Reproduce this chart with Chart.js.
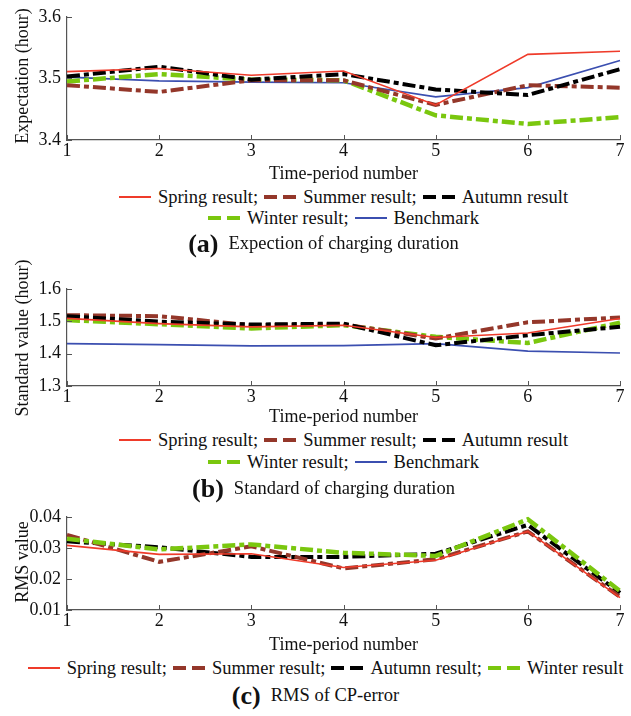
<!DOCTYPE html>
<html>
<head>
<meta charset="utf-8">
<script src="https://cdn.jsdelivr.net/npm/chart.js@4.4.1/dist/chart.umd.min.js"></script>
<style>
  html, body { margin: 0; padding: 0; background: #fff; }
  body { width: 631px; height: 716px; position: relative; overflow: hidden; font-family: "Liberation Serif", "Times New Roman", serif; color: #111; }
  .box { position: absolute; left: 0; width: 631px; }
  .legend { position: absolute; left: 67px; width: 553px; display: flex; justify-content: center; align-items: center; font-size: 18.5px; line-height: 20px; white-space: nowrap; }
  .item { display: inline-flex; align-items: center; margin: 0 3px; }
  .sample { display: inline-block; width: 32px; margin-right: 7px; position: relative; }
  .sample.solid { height: 0; border-top: 2px solid; }
  .sample.dash { height: 4px; }
  .sample.dash i { position: absolute; top: 0; height: 4px; width: 13px; }
  .sample.dash i:first-child { left: 0; }
  .sample.dash i:last-child { right: 0; }
  .caption { position: absolute; left: 0; width: 631px; text-align: center; white-space: nowrap; }
  .caption b { font-size: 26px; margin-right: 10px; vertical-align: -3px; }
  .caption span { font-size: 18.5px; }
  .ytitle { position: absolute; left: 22px; font-size: 18px; line-height: 20px; white-space: nowrap; transform: translate(-50%, -50%) rotate(-90deg); }
</style>
</head>
<body>
<div class="box" style="top:0;height:185px"><canvas id="cA" width="631" height="185"></canvas></div>
<div class="box" style="top:270px;height:158px"><canvas id="cB" width="631" height="158"></canvas></div>
<div class="box" style="top:500px;height:156px"><canvas id="cC" width="631" height="156"></canvas></div>

<div class="ytitle" id="ytA" style="top:76px"></div>
<div class="ytitle" id="ytB" style="top:338px"></div>
<div class="ytitle" id="ytC" style="top:562px"></div>

<div class="legend" id="legA1" style="top:187px"></div>
<div class="legend" id="legA2" style="top:208px"></div>
<div class="caption" style="top:229px;padding-left:16px;width:615px"><b>(a)</b><span>Expection of charging duration</span></div>

<div class="legend" id="legB1" style="top:430px"></div>
<div class="legend" id="legB2" style="top:452px"></div>
<div class="caption" style="top:474px;padding-left:16px;width:615px"><b>(b)</b><span>Standard of charging duration</span></div>

<div class="legend" id="legC1" style="top:658px;left:20px;width:611px"></div>
<div class="caption" style="top:681px"><b>(c)</b><span>RMS of CP-error</span></div>

<script>
// ---------- data ----------
const categories = ['1', '2', '3', '4', '5', '6', '7'];

// (a) Expectation of charging duration (hour)
const expSpring    = [3.511, 3.516, 3.505, 3.512, 3.457, 3.539, 3.544];
const expSummer    = [3.489, 3.478, 3.497, 3.497, 3.457, 3.489, 3.485];
const expAutumn    = [3.503, 3.519, 3.498, 3.507, 3.482, 3.473, 3.515];
const expWinter    = [3.495, 3.507, 3.498, 3.497, 3.440, 3.426, 3.437];
const expBenchmark = [3.502, 3.496, 3.494, 3.493, 3.470, 3.485, 3.529];

// (b) Standard value of charging duration (hour)
const stdSpring    = [1.509, 1.493, 1.483, 1.488, 1.450, 1.464, 1.509];
const stdSummer    = [1.519, 1.516, 1.488, 1.491, 1.447, 1.497, 1.512];
const stdAutumn    = [1.516, 1.499, 1.490, 1.493, 1.426, 1.457, 1.483];
const stdWinter    = [1.504, 1.491, 1.478, 1.488, 1.452, 1.433, 1.496];
const stdBenchmark = [1.431, 1.428, 1.424, 1.425, 1.431, 1.408, 1.402];

// (c) RMS of CP-error
const rmsSpring = [0.0308, 0.0279, 0.0281, 0.0237, 0.0260, 0.0353, 0.0140];
const rmsSummer = [0.0342, 0.0255, 0.0305, 0.0234, 0.0263, 0.0353, 0.0142];
const rmsAutumn = [0.0321, 0.0302, 0.0271, 0.0271, 0.0281, 0.0374, 0.0155];
const rmsWinter = [0.0329, 0.0295, 0.0311, 0.0284, 0.0274, 0.0392, 0.0161];

// axis titles / labels
const yTitles = ['Expectation (hour)', 'Standard value (hour)', 'RMS value'];
const xTitle = 'Time-period number';
const seriesNames = ['Spring result;', 'Summer result;', 'Autumn result', 'Winter result;', 'Benchmark'];
const seriesNamesC = ['Spring result;', 'Summer result;', 'Autumn result;', 'Winter result'];

// ---------- styles ----------
const FONT = '"Liberation Serif", "Times New Roman", serif';
const AXIS = '#555';
const COL = { spring: '#ef3b2a', summer: '#94372a', autumn: '#000000', winter: '#7ac70e', bench: '#3b4fb0' };
const DASHDOT = [13, 4, 5, 4];

function ds(label, data, color, kind, order) {
  const thick = kind === 'dash';
  return {
    label, data,
    borderColor: color, backgroundColor: color,
    borderWidth: thick ? (color === COL.winter ? 4.5 : 4) : 1.6,
    borderDash: thick ? DASHDOT : [],
    pointRadius: 0, tension: 0, fill: false, order,
    clip: 6
  };
}

const inwardTicks = {
  id: 'inwardTicks',
  afterDraw(chart) {
    const { ctx, chartArea } = chart;
    const x = chart.scales.x, y = chart.scales.y;
    ctx.save();
    ctx.strokeStyle = AXIS; ctx.lineWidth = 1;
    x.ticks.forEach((t, i) => {
      const px = Math.round(x.getPixelForTick(i)) + 0.5;
      ctx.beginPath(); ctx.moveTo(px, chartArea.bottom); ctx.lineTo(px, chartArea.bottom - 5); ctx.stroke();
    });
    y.ticks.forEach((t, i) => {
      const py = Math.round(y.getPixelForTick(i)) + 0.5;
      ctx.beginPath(); ctx.moveTo(chartArea.left, py); ctx.lineTo(chartArea.left + 5, py); ctx.stroke();
    });
    ctx.restore();
  }
};

function makeChart(id, datasets, yMin, yMax, step, decimals, padTop, xAxisH) {
  return new Chart(document.getElementById(id), {
    type: 'line',
    data: { labels: categories, datasets },
    options: {
      responsive: false, animation: false,
      layout: { padding: { top: padTop, right: 11, left: 0, bottom: 0 } },
      plugins: { legend: { display: false }, tooltip: { enabled: false } },
      scales: {
        x: {
          offset: false,
          grid: { display: true, drawOnChartArea: false, drawTicks: false },
          border: { display: true, color: AXIS, width: 1.2 },
          ticks: { color: '#111', font: { family: FONT, size: 18 }, padding: 0, maxRotation: 0 },
          title: { display: true, text: xTitle, color: '#111', font: { family: FONT, size: 18 }, padding: 0 },
          afterFit(s) { s.height = xAxisH; }
        },
        y: {
          min: yMin, max: yMax,
          grid: { display: true, drawOnChartArea: false, drawTicks: false },
          border: { display: true, color: AXIS, width: 1.2 },
          ticks: { stepSize: step, color: '#111', font: { family: FONT, size: 18 }, padding: 6,
                   callback: v => Number(v).toFixed(decimals) },
          title: { display: false },
          afterFit(s) { s.width = 67; }
        }
      }
    },
    plugins: [inwardTicks]
  });
}

makeChart('cA', [
  ds(seriesNames[0], expSpring, COL.spring, 'solid', 0),
  ds(seriesNames[1], expSummer, COL.summer, 'dash', 2),
  ds(seriesNames[2], expAutumn, COL.autumn, 'dash', 1),
  ds(seriesNames[3], expWinter, COL.winter, 'dash', 3),
  ds(seriesNames[4], expBenchmark, COL.bench, 'solid', 4)
], 3.4, 3.6, 0.1, 1, 12, 45);

makeChart('cB', [
  ds(seriesNames[0], stdSpring, COL.spring, 'solid', 0),
  ds(seriesNames[1], stdSummer, COL.summer, 'dash', 2),
  ds(seriesNames[2], stdAutumn, COL.autumn, 'dash', 1),
  ds(seriesNames[3], stdWinter, COL.winter, 'dash', 3),
  ds(seriesNames[4], stdBenchmark, COL.bench, 'solid', 4)
], 1.3, 1.6, 0.1, 1, 19, 42);

makeChart('cC', [
  ds(seriesNamesC[0], rmsSpring, COL.spring, 'solid', 0),
  ds(seriesNamesC[1], rmsSummer, COL.summer, 'dash', 2),
  ds(seriesNamesC[2], rmsAutumn, COL.autumn, 'dash', 3),
  ds(seriesNamesC[3], rmsWinter, COL.winter, 'dash', 1)
], 0.01, 0.04, 0.01, 2, 15, 46);

// ---------- y titles (HTML text) ----------
document.getElementById('ytA').textContent = yTitles[0];
document.getElementById('ytB').textContent = yTitles[1];
document.getElementById('ytC').textContent = yTitles[2];

// ---------- HTML legends ----------
function legendItem(name, color, kind) {
  const it = document.createElement('span'); it.className = 'item';
  const s = document.createElement('span');
  if (kind === 'solid') { s.className = 'sample solid'; s.style.borderColor = color; }
  else {
    s.className = 'sample dash';
    for (let k = 0; k < 2; k++) { const d = document.createElement('i'); d.style.background = color; s.appendChild(d); }
  }
  const t = document.createElement('span'); t.textContent = name;
  it.appendChild(s); it.appendChild(t);
  return it;
}
function fill(id, items) { const el = document.getElementById(id); items.forEach(a => el.appendChild(legendItem(...a))); }
const row1 = [[seriesNames[0], COL.spring, 'solid'], [seriesNames[1], COL.summer, 'dash'], [seriesNames[2], COL.autumn, 'dash']];
const row2 = [[seriesNames[3], COL.winter, 'dash'], [seriesNames[4], COL.bench, 'solid']];
fill('legA1', row1); fill('legA2', row2);
fill('legB1', row1); fill('legB2', row2);
fill('legC1', [[seriesNamesC[0], COL.spring, 'solid'], [seriesNamesC[1], COL.summer, 'dash'], [seriesNamesC[2], COL.autumn, 'dash'], [seriesNamesC[3], COL.winter, 'dash']]);
</script>
</body>
</html>
